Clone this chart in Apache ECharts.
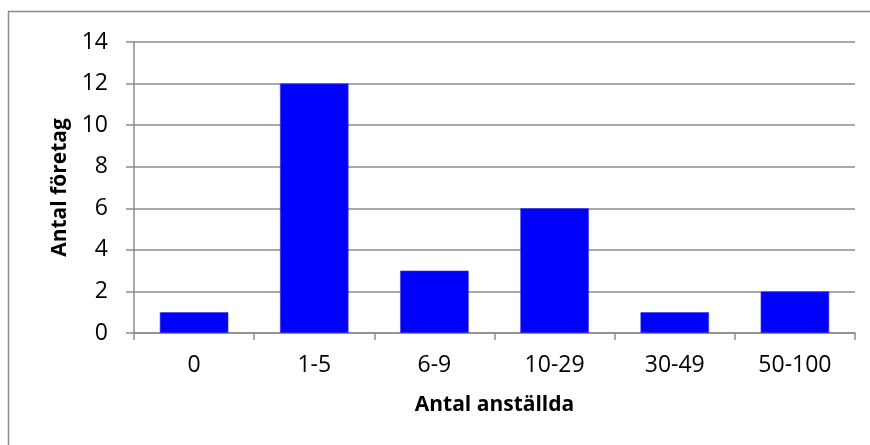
<!DOCTYPE html>
<html>
<head>
<meta charset="utf-8">
<script src="https://cdn.jsdelivr.net/npm/echarts@6/dist/echarts.min.js"></script>
<style>
  html, body { margin: 0; padding: 0; background: #fff; }
  #chart { width: 870px; height: 445px; }
</style>
</head>
<body>
<div id="chart"></div>
<script>
// Antal företag per storleksklass (antal anställda)
const categories = ['0', '1-5', '6-9', '10-29', '30-49', '50-100'];
const companies = [1, 12, 3, 6, 1, 2];
const yTicks = { min: 0, max: 14, interval: 2 };

const FONT = '"Open Sans", sans-serif';
const GRID_GRAY = '#8c8c8c';

const chart = echarts.init(document.getElementById('chart'));
chart.setOption({
  animation: false,
  backgroundColor: '#fff',
  graphic: [{
    type: 'rect',
    shape: { x: 8.5, y: 11.5, width: 900, height: 500 },
    style: { fill: 'none', stroke: '#8c8c8c', lineWidth: 1.5 },
    silent: true
  }],
  grid: { left: 134, right: 15, top: 42, bottom: 112 },
  xAxis: {
    type: 'category',
    data: categories,
    name: 'Antal anställda',
    nameLocation: 'middle',
    nameGap: 62,
    nameTextStyle: { fontFamily: FONT, fontSize: 21, fontWeight: 'bold', color: '#000' },
    axisLine: { lineStyle: { color: GRID_GRAY, width: 1.5 } },
    axisTick: { show: true, alignWithLabel: false, length: 7, lineStyle: { color: GRID_GRAY, width: 1.5 } },
    axisLabel: { fontFamily: FONT, fontSize: 23, color: '#000', margin: 21 }
  },
  yAxis: {
    type: 'value',
    min: yTicks.min,
    max: yTicks.max,
    interval: yTicks.interval,
    name: 'Antal företag',
    nameLocation: 'middle',
    nameGap: 63,
    nameTextStyle: { fontFamily: FONT, fontSize: 21, fontWeight: 'bold', color: '#000' },
    axisLine: { show: true, lineStyle: { color: GRID_GRAY, width: 1.5 } },
    axisTick: { show: true, length: 8, lineStyle: { color: GRID_GRAY, width: 1.5 } },
    axisLabel: { fontFamily: FONT, fontSize: 23, color: '#000', margin: 26 },
    splitLine: { show: true, lineStyle: { color: GRID_GRAY, width: 1.5 } }
  },
  series: [{
    type: 'bar',
    data: companies,
    barCategoryGap: '43%',
    itemStyle: { color: '#0000ff', borderColor: '#3a3ad8', borderWidth: 0.6 }
  }]
});
</script>
</body>
</html>
